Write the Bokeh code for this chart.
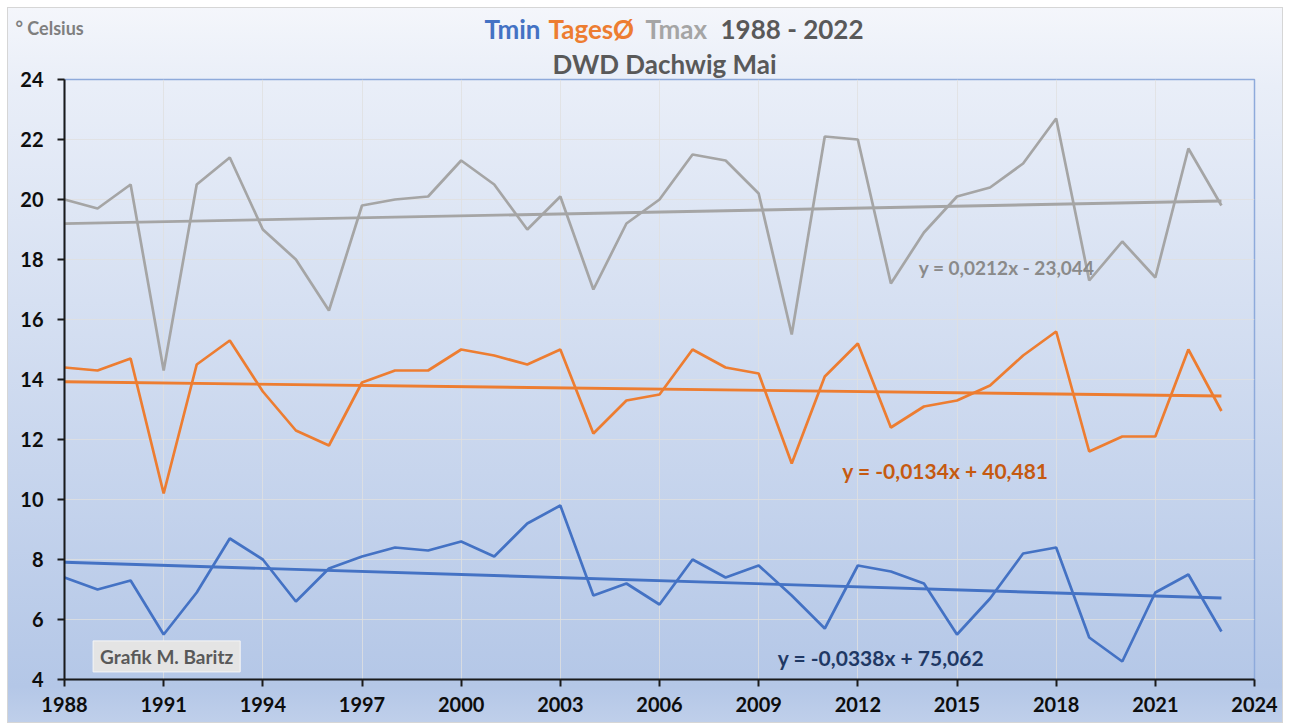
import numpy as np
from bokeh.plotting import figure
from bokeh.layouts import column
from bokeh.models import Range1d, FixedTicker, Label
from bokeh.embed import file_html
from bokeh.resources import INLINE

years = list(range(1988, 2024))
tmax = [20.0, 19.7, 20.5, 14.3, 20.5, 21.4, 19.0, 18.0, 16.3, 19.8, 20.0, 20.1,
        21.3, 20.5, 19.0, 20.1, 17.0, 19.2, 20.0, 21.5, 21.3, 20.2, 15.5, 22.1,
        22.0, 17.2, 18.9, 20.1, 20.4, 21.2, 22.7, 17.3, 18.6, 17.4, 21.7, 19.8]
tmean = [14.4, 14.3, 14.7, 10.2, 14.5, 15.3, 13.6, 12.3, 11.8, 13.9, 14.3, 14.3,
         15.0, 14.8, 14.5, 15.0, 12.2, 13.3, 13.5, 15.0, 14.4, 14.2, 11.2, 14.1,
         15.2, 12.4, 13.1, 13.3, 13.8, 14.8, 15.6, 11.6, 12.1, 12.1, 15.0, 12.95]
tmin = [7.4, 7.0, 7.3, 5.5, 6.9, 8.7, 8.0, 6.6, 7.7, 8.1, 8.4, 8.3,
        8.6, 8.1, 9.2, 9.8, 6.8, 7.2, 6.5, 8.0, 7.4, 7.8, 6.8, 5.7,
        7.8, 7.6, 7.2, 5.5, 6.7, 8.2, 8.4, 5.4, 4.6, 6.9, 7.5, 5.6]
x_ticks = list(range(1988, 2025, 3))
y_ticks = list(range(4, 25, 2))

series = [
    ("Tmax", tmax, "#a5a5a5"),
    ("TagesØ", tmean, "#ed7d31"),
    ("Tmin", tmin, "#4472c4"),
]
equations = [
    ("y = 0,0212x - 23,044", "#8a8a8a", 2016.5, 17.73, "19px"),
    ("y = -0,0134x + 40,481", "#c55a11", 2014.65, 10.97, "21px"),
    ("y = -0,0338x + 75,062", "#1f3864", 2012.7, 4.73, "21px"),
]
title_parts = [("Tmin", "#4472c4", 476), ("TagesØ", "#ed7d31", 540),
               ("Tmax", "#a5a5a5", 637), ("1988 - 2022", "#595959", 712)]

FONT = "Lato"
W = 1274
HEAD_H = 37


def no_align(fig):
    try:
        fig.frame_align = False
    except AttributeError:
        pass


# ---------- header strip (first title line and unit) ----------
head = figure(width=W, height=HEAD_H, output_backend="svg", toolbar_location=None,
              x_range=Range1d(0, W), y_range=Range1d(HEAD_H, 0),
              x_axis_location=None, y_axis_location=None,
              min_border=0, min_border_left=0, min_border_right=0,
              min_border_top=0, min_border_bottom=0)
no_align(head)
head.title.visible = False
head.grid.visible = False
head.outline_line_color = None
head.background_fill_alpha = 0
head.border_fill_alpha = 0
for txt, col, x in title_parts:
    head.add_layout(Label(x=x, y=20.5, text=txt, text_color=col, text_font=FONT,
                          text_font_style="bold", text_font_size="26px",
                          text_align="left", text_baseline="middle"))
head.add_layout(Label(x=7, y=19, text="° Celsius", text_color="#7f7f7f",
                      text_font=FONT, text_font_style="bold", text_font_size="18px",
                      text_align="left", text_baseline="middle"))

# ---------- main chart ----------
p = figure(width=W, height=714 - HEAD_H, output_backend="svg", toolbar_location=None,
           x_range=Range1d(1988, 2024), y_range=Range1d(4, 24),
           title="DWD Dachwig Mai",
           min_border_left=56, min_border_right=28, min_border_top=34, min_border_bottom=43)
no_align(p)
p.title.align = "left"
p.title.offset = 488
p.title.standoff = 0
p.title.text_font = FONT
p.title.text_font_style = "bold"
p.title.text_font_size = "26px"
p.title.text_color = "#595959"
p.background_fill_alpha = 0
p.border_fill_alpha = 0
p.outline_line_color = "#8eaadb"
p.outline_line_width = 1.5

for ax, ticks in ((p.xaxis, x_ticks), (p.yaxis, y_ticks)):
    ax.ticker = FixedTicker(ticks=ticks)
    ax.axis_line_color = "#1a1a1a"
    ax.axis_line_width = 2
    ax.major_tick_line_color = "#1a1a1a"
    ax.major_tick_line_width = 2
    ax.major_tick_out = 7
    ax.major_tick_in = 0
    ax.minor_tick_line_color = None
    ax.major_label_text_font = FONT
    ax.major_label_text_font_style = "bold"
    ax.major_label_text_font_size = "20px"
    ax.major_label_text_color = "#0d0d0d"
p.xaxis.major_label_standoff = 10
p.yaxis.major_label_standoff = 14

p.xgrid.grid_line_color = "#e0e0e0"
p.ygrid.grid_line_color = "#e0e0e0"
p.xgrid.grid_line_alpha = 0.8
p.ygrid.grid_line_alpha = 0.8
p.xgrid.ticker = FixedTicker(ticks=x_ticks)
p.ygrid.ticker = FixedTicker(ticks=y_ticks)

yrs = np.array(years, dtype=float)
for name, vals, col in series:
    p.line(years, vals, line_color=col, line_width=2.7)
    k, d = np.polyfit(yrs, np.array(vals), 1)
    ends = [yrs[0], yrs[-1]]
    p.line(ends, [k * e + d for e in ends], line_color=col, line_width=2.9)

for txt, col, x, y, fs in equations:
    p.add_layout(Label(x=x, y=y, text=txt, text_color=col, text_font=FONT,
                       text_font_style="bold", text_font_size=fs,
                       text_align="center", text_baseline="middle"))

p.add_layout(Label(x=1991.09, y=4.77, text="Grafik M. Baritz", text_color="#595959",
                   text_font=FONT, text_font_style="bold", text_font_size="19px",
                   text_align="center", text_baseline="middle",
                   background_fill_color="#e4e4e4", background_fill_alpha=1.0,
                   border_line_color="#f6f6f6", border_line_width=1, padding=(7, 4)))

lay = column(head, p, spacing=0)
lay.margin = (8, 0, 0, 8)
lay.styles = {
    "background": "linear-gradient(to bottom, #f4f6fb 0%, #e9eef8 11%, #b4c7e7 95%, #bfcfea 100%)",
    "box-shadow": "0 0 0 1px #d6d6d6",
}

open("out.html", "w").write(file_html(lay, INLINE))
